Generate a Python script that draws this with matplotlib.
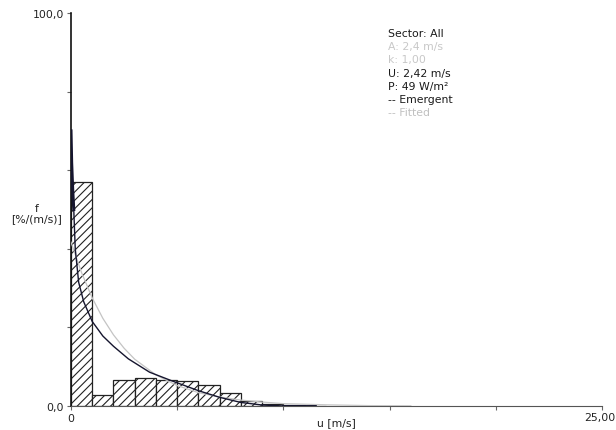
import numpy as np
import matplotlib
matplotlib.use('Agg')
from matplotlib import pyplot as plt

# histogram of observed wind speed, 1 m/s bins
bin_left = [0, 1, 2, 3, 4, 5, 6, 7, 8, 9, 10, 11]
freq = [57.0, 2.9, 6.7, 7.0, 6.6, 6.4, 5.3, 3.2, 1.3, 0.5, 0.2, 0.1]

# emergent distribution
emerg_u = [0.0, 0.03, 0.08, 0.13, 0.2, 0.36, 0.6, 1.0, 1.5, 2.0, 2.7, 3.7, 4.75, 6.0, 7.0, 8.0, 9.0, 10.0, 11.5]
emerg_f = [70, 62, 55, 50, 40, 31.5, 26.5, 21.5, 17.8, 15.2, 12.0, 8.6, 6.4, 3.9, 2.2, 0.9, 0.25, 0.0, 0.0]

# fitted weibull curve
fit_u = [0, 0.5, 1, 1.5, 2, 2.5, 3, 4, 5, 6, 7, 8, 9, 10, 12, 14, 16]
fit_f = [41.7, 33.9, 27.5, 22.3, 18.1, 14.7, 11.9, 7.9, 5.2, 3.4, 2.3, 1.5, 1.0, 0.6, 0.3, 0.1, 0.05]

info = [('Sector: All', '#1a1a1a'),
        ('A: 2,4 m/s', '#c8c8c8'),
        ('k: 1,00', '#c8c8c8'),
        ('U: 2,42 m/s', '#1a1a1a'),
        ('P: 49 W/m\u00b2', '#1a1a1a'),
        ('-- Emergent', '#1a1a1a'),
        ('-- Fitted', '#c0c0c0')]

plt.rcParams['font.family'] = ['DejaVu Sans']
plt.rcParams['hatch.linewidth'] = 0.8

fig = plt.figure(figsize=(6.16, 4.31), dpi=100)
ax = fig.add_axes([71/616, 24/431, 531/616, 393/431])

ax.bar(bin_left, freq, width=1.0, align='edge', facecolor='white',
       edgecolor='#222222', linewidth=0.9, hatch='////', zorder=2)
ax.plot(fit_u, fit_f, color='#c4c4c4', lw=0.9, zorder=3)
ax.plot(emerg_u, emerg_f, color='#15152e', lw=1.0, zorder=4)
ax.plot(emerg_u[:4], emerg_f[:4], color='#15152e', lw=2.2, zorder=4)
ax.plot(emerg_u[-2:], emerg_f[-2:], color='#15152e', lw=2.0, zorder=4)

ax.set_xlim(0, 25)
ax.set_ylim(0, 100)
for s in ['top', 'right']:
    ax.spines[s].set_visible(False)
ax.spines['left'].set_color('#111111')
ax.spines['bottom'].set_color('#555555')
ax.spines['left'].set_linewidth(1.2)

ax.set_xticks([0, 5, 10, 15, 20, 25])
ax.set_xticklabels(['0', '', '', '', '', ''])
ax.set_yticks([0, 20, 40, 60, 80, 100])
ax.set_yticklabels(['0,0', '', '', '', '', '100,0'])
ax.tick_params(length=3, width=0.8, color='#666666', labelsize=7.8,
               labelcolor='#222222', pad=2)

# last x label, kept inside the figure edge
fig.text(615/616, 1 - 418/431, '25,00', fontsize=7.8, ha='right',
         va='center', color='#222222')

ax.text(12.5, -4.2, 'u [m/s]', fontsize=7.8, ha='center', va='center',
        color='#222222')
fig.text(37/616, 1 - 214/431, 'f\n[%/(m/s)]', fontsize=7.8, ha='center',
         va='center', color='#222222', linespacing=1.0)

y0 = 34
for txt, col in info:
    fig.text(388/616, 1 - y0/431, txt, fontsize=7.8, color=col,
             ha='left', va='center')
    y0 += 13.2

plt.savefig('out.png', dpi=100)
